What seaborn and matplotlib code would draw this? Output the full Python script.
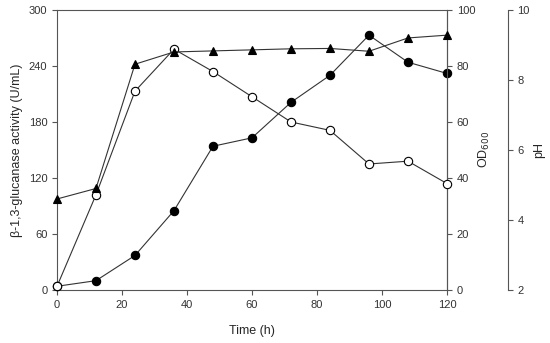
import numpy as np
import pandas as pd
import matplotlib
matplotlib.use("Agg")
import matplotlib.pyplot as plt
import seaborn as sns

# Data
time_h = [0, 12, 24, 36, 48, 60, 72, 84, 96, 108, 120]
activity = [4, 10, 37, 85, 154, 163, 201, 230, 273, 244, 232]      # U/mL, filled circles
od600 = [1.3, 34, 71, 86, 78, 69, 60, 57, 45, 46, 38]               # open circles
ph = [4.6, 4.9, 8.45, 8.8, 8.83, 8.86, 8.89, 8.9, 8.82, 9.2, 9.28]   # triangles

df = pd.DataFrame({"time": time_h, "activity": activity, "od": od600, "ph": ph})

sns.set_style("ticks")
plt.rcParams["font.family"] = ["Liberation Sans", "DejaVu Sans"]
plt.rcParams["font.size"] = 8

fig, ax = plt.subplots(figsize=(5.5, 3.43), dpi=100)
fig.subplots_adjust(left=0.1036, right=0.8127, top=0.971, bottom=0.1545)

ax2 = ax.twinx()
ax3 = ax.twinx()

line_kw = dict(color="#333333", linewidth=0.8, markeredgecolor="black",
               markeredgewidth=0.8, clip_on=False, zorder=5)

sns.lineplot(data=df, x="time", y="activity", ax=ax, marker="o", markersize=6,
             markerfacecolor="black", **line_kw)
sns.lineplot(data=df, x="time", y="od", ax=ax2, marker="o", markersize=6,
             markerfacecolor="white", **line_kw)
sns.lineplot(data=df, x="time", y="ph", ax=ax3, marker="^", markersize=6,
             markerfacecolor="black", **line_kw)

ax.set_xlim(0, 120)
ax.set_ylim(0, 300)
ax.set_xticks(range(0, 121, 20))
ax.set_yticks(range(0, 301, 60))
ax2.set_ylim(0, 100)
ax2.set_yticks(range(0, 101, 20))
ax3.set_ylim(2, 10)
ax3.set_yticks(range(2, 11, 2))

ax.set_xlabel("Time (h)", fontsize=9, labelpad=11)
ax.set_ylabel("β-1,3-glucanase activity (U/mL)", fontsize=9, labelpad=4)
ax2.set_ylabel("OD$_{600}$", fontsize=9, labelpad=1)
ax3.set_ylabel("pH", fontsize=9, labelpad=2)

ax3.spines["right"].set_position(("axes", 1.156))
for a in (ax, ax2, ax3):
    a.tick_params(direction="out", length=3.5, width=0.8, colors="#555555",
                  labelcolor="#333333", labelsize=8)
    for s in a.spines.values():
        s.set_color("#555555")
        s.set_linewidth(0.8)

ax.spines["top"].set_visible(True)
ax.spines["right"].set_visible(True)
ax2.spines["top"].set_visible(False)
ax3.spines["top"].set_visible(False)
ax3.spines["left"].set_visible(False)
ax3.spines["bottom"].set_visible(False)
ax2.spines["left"].set_visible(False)
ax2.spines["bottom"].set_visible(False)

plt.savefig("out.png", dpi=100)
